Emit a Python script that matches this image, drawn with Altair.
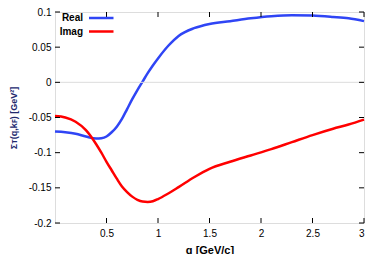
import altair as alt
import pandas as pd

q = [0.0, 0.1, 0.2, 0.3, 0.4, 0.45, 0.5, 0.55, 0.6, 0.65, 0.7, 0.75, 0.8, 0.85,
     0.9, 0.95, 1.0, 1.1, 1.2, 1.35, 1.5, 1.7, 1.9, 2.1, 2.3, 2.5, 2.7, 2.85, 3.0]
real = [-0.070, -0.071, -0.073, -0.077, -0.080, -0.0795, -0.077, -0.071, -0.063,
        -0.052, -0.038, -0.024, -0.011, 0.001, 0.013, 0.024, 0.034, 0.052, 0.066,
        0.077, 0.083, 0.087, 0.091, 0.094, 0.0955, 0.095, 0.093, 0.091, 0.087]
imag = [-0.048, -0.050, -0.056, -0.068, -0.088, -0.100, -0.113, -0.125, -0.137,
        -0.148, -0.156, -0.1625, -0.167, -0.1695, -0.170, -0.169, -0.166, -0.158,
        -0.149, -0.135, -0.123, -0.113, -0.104, -0.095, -0.085, -0.075, -0.066,
        -0.060, -0.053]

series_names = ["Real", "Imag"]
series_colors = ["#2f45f5", "#ff0000"]
x_ticks = [0.5, 1.0, 1.5, 2.0, 2.5, 3.0]
y_ticks = [-0.2, -0.15, -0.1, -0.05, 0.0, 0.05, 0.1]

df = pd.DataFrame({
    "q": q * 2,
    "value": real + imag,
    "series": ["Real"] * len(q) + ["Imag"] * len(q),
})
xt = pd.DataFrame({"q": x_ticks})
yt = pd.DataFrame({"value": y_ticks})

FONT = "Liberation Sans"
W, H = 309, 211
TICK = 5

xscale = alt.Scale(domain=[0, 3], nice=False, zero=False)
yscale = alt.Scale(domain=[-0.2, 0.1], nice=False, zero=False)
lab = "toString(round(datum.value*100)/100)"

x_axis = alt.Axis(orient="bottom", values=x_ticks, labelExpr=lab, ticks=False,
                  domain=False, grid=False, title="q [GeV/c]", labelPadding=5,
                  titlePadding=6)
y_axis = alt.Axis(orient="left", values=y_ticks, labelExpr=lab, ticks=False,
                  domain=False, grid=False, title="Σᴛ(q,kꜰ) [GeV²]", labelPadding=4,
                  titlePadding=10, titleColor="#22296e", titleFontSize=9)

def X(field="q"):
    return alt.X(f"{field}:Q", scale=xscale, axis=x_axis)

def Y(field="value"):
    return alt.Y(f"{field}:Q", scale=yscale, axis=y_axis)

main = alt.Chart(df).mark_line(strokeWidth=2.5, interpolate="monotone").encode(
    x=X(), y=Y(),
    color=alt.Color("series:N", scale=alt.Scale(domain=series_names, range=series_colors),
                    legend=None),
    detail="series:N",
)

tick_style = dict(color="black", strokeWidth=1)
ticks_bottom = alt.Chart(xt).mark_rule(**tick_style).encode(
    x=X(), y=alt.value(H), y2=alt.value(H - TICK))
ticks_top = alt.Chart(xt).mark_rule(**tick_style).encode(
    x=X(), y=alt.value(0), y2=alt.value(TICK))
ticks_left = alt.Chart(yt).mark_rule(**tick_style).encode(
    y=Y(), x=alt.value(0), x2=alt.value(TICK))
ticks_right = alt.Chart(yt).mark_rule(**tick_style).encode(
    y=Y(), x=alt.value(W), x2=alt.value(W - TICK))

zero = alt.Chart(pd.DataFrame({"value": [0.0]})).mark_rule(
    color="#dddddd", strokeWidth=1).encode(y=Y())

legend_layers = []
for i, (name, col) in enumerate(zip(series_names, series_colors)):
    ypix = 6 + 13.5 * i
    ldf = pd.DataFrame({"name": [name]})
    legend_layers.append(alt.Chart(ldf).mark_text(
        align="right", baseline="middle", font=FONT, fontWeight="bold", fontSize=10,
        color="black").encode(text="name:N", x=alt.value(28), y=alt.value(ypix)))
    legend_layers.append(alt.Chart(ldf).mark_rule(strokeWidth=2.5, color=col).encode(
        x=alt.value(34), x2=alt.value(58.5), y=alt.value(ypix)))

chart = alt.layer(main, zero, ticks_bottom, ticks_top, ticks_left, ticks_right,
                  *legend_layers).properties(
    width=W, height=H,
    autosize=alt.AutoSizeParams(type="none"),
    padding={"left": 47, "top": 4, "right": 9, "bottom": 31},
).configure_view(stroke="#111111", strokeWidth=1.2).configure_axis(
    labelFont=FONT, titleFont=FONT, labelFontWeight="bold", titleFontWeight="bold",
    labelFontSize=10, titleFontSize=10, labelColor="black", titleColor="black",
).configure(background="white")

chart.save("out.html", embed_options={"renderer": "svg", "actions": False})
